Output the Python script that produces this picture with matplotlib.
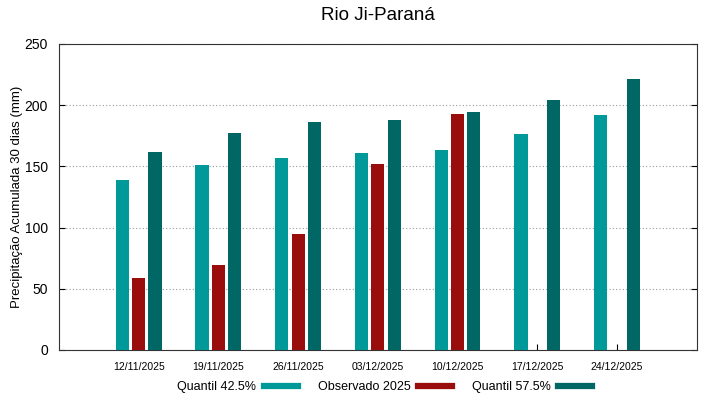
import numpy as np
import matplotlib
matplotlib.use("Agg")
import matplotlib.pyplot as plt
from matplotlib.lines import Line2D

plt.rcParams['font.family'] = ['Liberation Sans', 'DejaVu Sans']

datas = ["12/11/2025", "19/11/2025", "26/11/2025", "03/12/2025",
         "10/12/2025", "17/12/2025", "24/12/2025"]
q425 = [139, 151, 157, 161, 163, 176, 192]
observado = [58.5, 69.5, 95, 152, 193, np.nan, np.nan]
q575 = [162, 177, 186, 188, 194, 204, 221]

cor_q425 = '#009999'
cor_obs = '#990d0d'
cor_q575 = '#006764'

fig = plt.figure(figsize=(7.19, 3.99), dpi=100)
ax = fig.add_axes([0.082, 0.123, 0.887, 0.767])

x = np.arange(len(datas))
w = 0.165
off = 0.205
ax.bar(x - off, q425, width=w, color=cor_q425, zorder=3)
ax.bar(x, observado, width=w, color=cor_obs, zorder=3)
ax.bar(x + off, q575, width=w, color=cor_q575, zorder=3)

ax.set_xlim(-1, 7)
ax.set_ylim(0, 250)
ax.set_xticks(x)
ax.set_xticklabels(datas, fontsize=7.5)
ax.set_yticks(range(0, 251, 50))
ax.tick_params(axis='y', direction='in', right=True, labelsize=10, pad=8, length=4)
ax.tick_params(axis='x', direction='in', labelsize=7.5, pad=9, length=4)
for s in ax.spines.values():
    s.set_linewidth(0.8)
    s.set_color('#333333')

ax.yaxis.grid(True, linestyle=(0, (1, 2)), color='#999999', linewidth=0.8, zorder=0)
ax.set_ylabel("Precipitação Acumulada 30 dias (mm)", fontsize=9.5, labelpad=1)
ax.set_title("Rio Ji-Paraná", fontsize=13.5, pad=17)

handles = [Line2D([], [], color=c, linewidth=4.5) for c in (cor_q425, cor_obs, cor_q575)]
fig.legend(handles, ["Quantil 42.5%", "Observado 2025", "Quantil 57.5%"],
           loc='center', bbox_to_anchor=(0.535, 0.03), ncol=3, frameon=False,
           markerfirst=False, fontsize=9, handlelength=2.7, columnspacing=1.6,
           handletextpad=0.6)

fig.savefig("out.png", dpi=100)
